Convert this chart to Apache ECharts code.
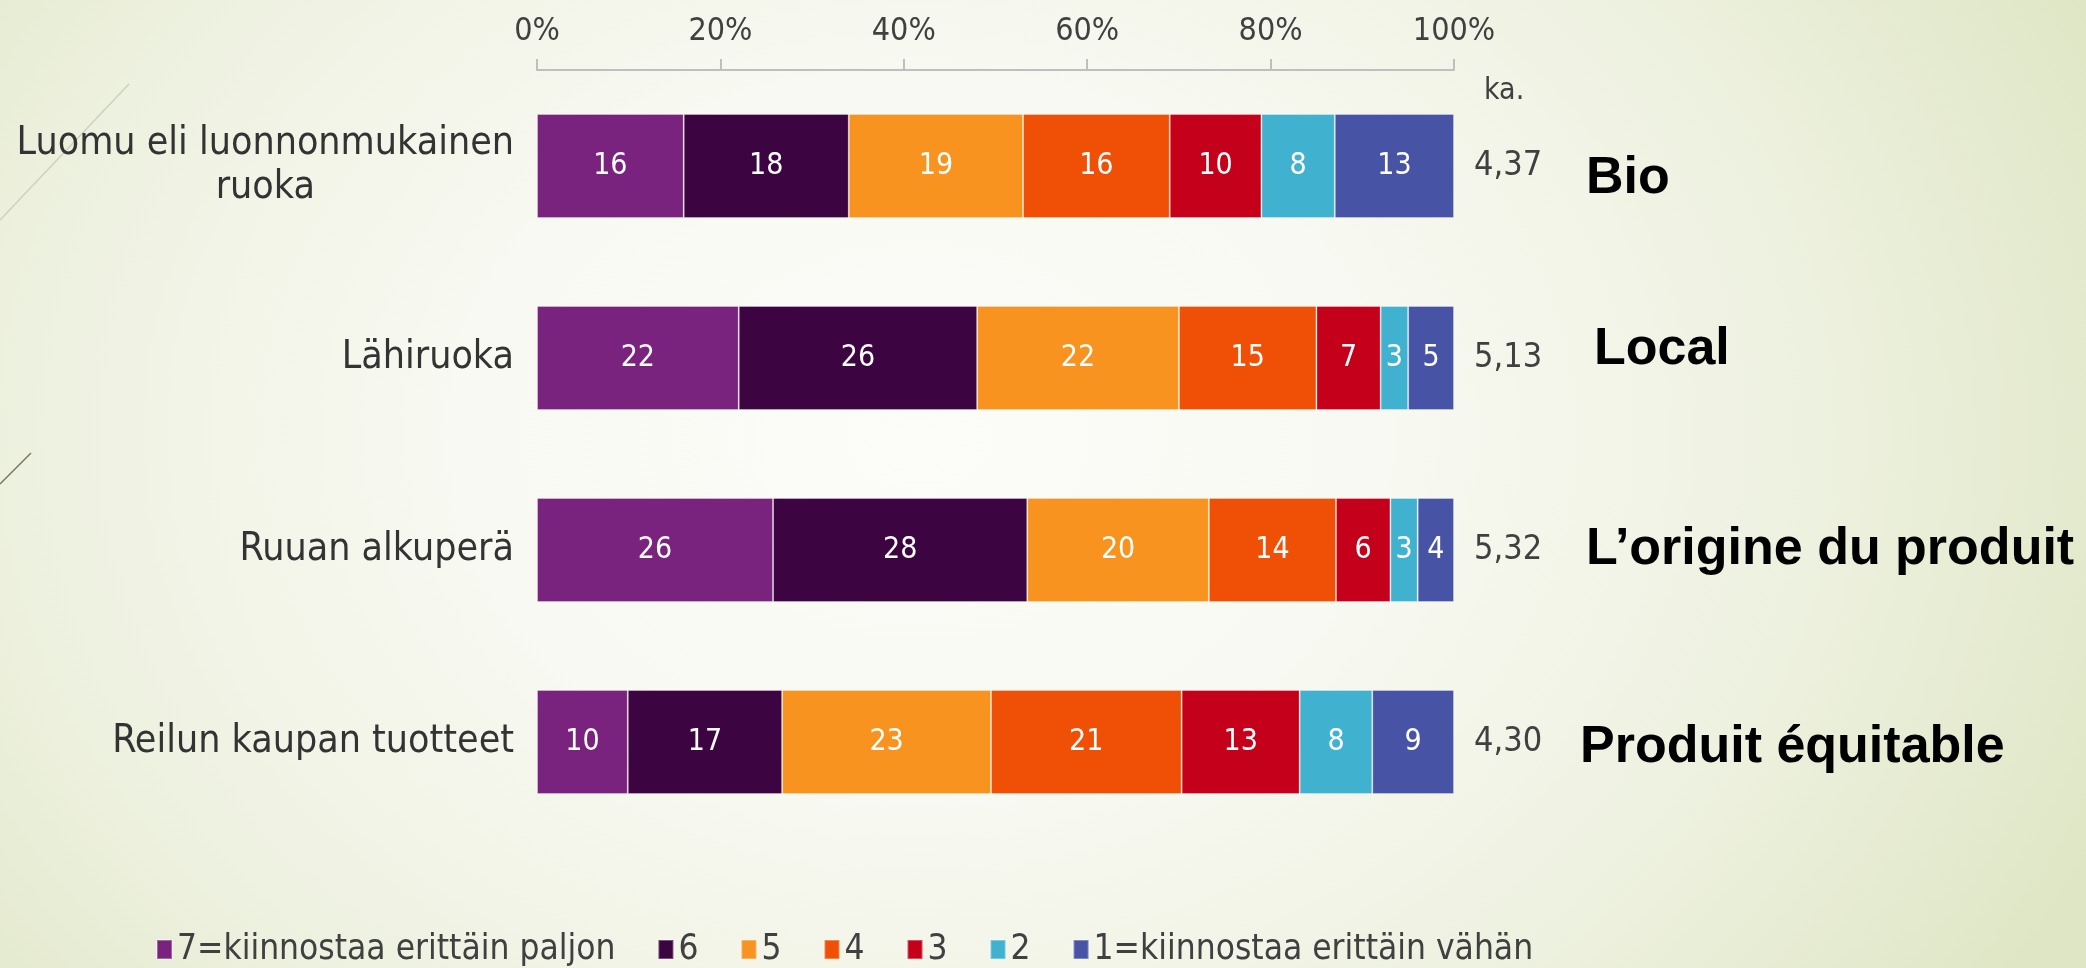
<!DOCTYPE html>
<html>
<head>
<meta charset="utf-8">
<script src="https://cdn.jsdelivr.net/npm/echarts@6/dist/echarts.min.js"></script>
<style>
  html, body { margin: 0; padding: 0; }
  body {
    background: radial-gradient(ellipse 62% 105% at 44% 45%, #fcfcf9 0%, #f8f9f2 35%, #edf1df 70%, #dfe6c5 100%);
  }
  #chart { width: 2086px; height: 968px; }
</style>
</head>
<body>
<div id="chart"></div>
<script>
const categories = ["Luomu eli luonnonmukainen\nruoka", "Lähiruoka", "Ruuan alkuperä", "Reilun kaupan tuotteet"];
const frenchLabels = ["Bio", "Local", "L’origine du produit", "Produit équitable"];
const averages = [4.37, 5.13, 5.32, 4.30];
const seriesNames = ["7=kiinnostaa erittäin paljon", "6", "5", "4", "3", "2", "1=kiinnostaa erittäin vähän"];
const score7 = [16, 22, 26, 10];
const score6 = [18, 26, 28, 17];
const score5 = [19, 22, 20, 23];
const score4 = [16, 15, 14, 21];
const score3 = [10, 7, 6, 13];
const score2 = [8, 3, 3, 8];
const score1 = [13, 5, 4, 9];
const colors = ["#7a237e", "#3c0440", "#f7931e", "#f05006", "#c5001a", "#40b2d0", "#4753a5"];

const allScores = [score7, score6, score5, score4, score3, score2, score1];
// 100 % pinottu: jokainen rivi skaalataan summaansa
const rowTotals = categories.map((c, i) => allScores.reduce((s, arr) => s + arr[i], 0));

const font = "DejaVu Sans Condensed";
const gridLeft = 537, gridRight = 632;

let myChart = echarts.init(document.getElementById("chart"));

let series = allScores.map((arr, si) => ({
  name: seriesNames[si],
  type: "bar",
  stack: "total",
  barWidth: 104,
  data: arr.map((v, i) => v / rowTotals[i] * 100),
  itemStyle: {
    color: colors[si],
    borderColor: "rgba(255,255,255,0.3)",
    borderWidth: 1
  },
  label: {
    show: true,
    position: "inside",
    color: "#fff",
    fontSize: 30,
    fontFamily: font,
    formatter: (p) => String(allScores[p.seriesIndex][p.dataIndex])
  },
  emphasis: { disabled: true }
}));

let options = {
  backgroundColor: "transparent",
  animation: false,
  color: colors,
  grid: { left: gridLeft, right: gridRight, top: 70, bottom: 130 },
  legend: {
    data: seriesNames,
    left: 156,
    top: 932,
    padding: 0,
    icon: "rect",
    itemWidth: 15,
    itemHeight: 19,
    itemGap: 42,
    textStyle: { fontSize: 35, color: "#404040", fontFamily: font }
  },
  xAxis: {
    type: "value",
    position: "top",
    min: 0,
    max: 100,
    interval: 20,
    axisLine: { show: true, lineStyle: { color: "#bfbfbf", width: 2 } },
    axisTick: { show: true, length: 11, lineStyle: { color: "#bfbfbf", width: 2 } },
    splitLine: { show: false },
    axisLabel: { formatter: "{value}%", fontSize: 32, color: "#404040", margin: 22, fontFamily: font }
  },
  yAxis: [
    {
      type: "category",
      inverse: true,
      data: categories,
      axisLine: { show: false },
      axisTick: { show: false },
      axisLabel: {
        margin: 23,
        formatter: (v) => v.split("\n").map((s) => "{c|" + s + "}").join("\n"),
        rich: {
          c: { align: "center", fontSize: 39, lineHeight: 44, color: "#333333", fontFamily: font }
        }
      }
    },
    {
      type: "category",
      inverse: true,
      position: "right",
      data: averages.map((a) => a.toFixed(2).replace(".", ",")),
      axisLine: { show: false },
      axisTick: { show: false },
      axisLabel: { margin: 20, fontSize: 34, color: "#404040", fontFamily: font }
    }
  ],
  graphic: [
    { id: "deco1", type: "line", shape: { x1: 0, y1: 220, x2: 129, y2: 84 }, style: { stroke: "#cdd1bc", lineWidth: 1.5 } },
    { id: "deco2", type: "line", shape: { x1: 0, y1: 484, x2: 31, y2: 453 }, style: { stroke: "#7f7357", lineWidth: 1.5 } },
    { id: "ka", type: "text", left: 1484, top: 76, style: { text: "ka.", fontSize: 30, fill: "#404040", fontFamily: font } }
  ],
  series: series
};
myChart.setOption(options);

// ranskankieliset otsikot oikealle, rivien kohdalle
const frDx = [132, 140, 132, 126];
const frDy = [13, -8, 0, 6];
let axisRight = 2086 - gridRight;
myChart.setOption({
  graphic: frenchLabels.map((t, i) => ({
    id: "fr" + i,
    type: "text",
    x: axisRight + frDx[i],
    y: myChart.convertToPixel({ yAxisIndex: 0 }, categories[i]) + frDy[i],
    style: {
      text: t,
      fontSize: 52,
      fontWeight: "bold",
      fill: "#000",
      fontFamily: "Liberation Sans",
      verticalAlign: "middle"
    }
  }))
});
</script>
</body>
</html>
